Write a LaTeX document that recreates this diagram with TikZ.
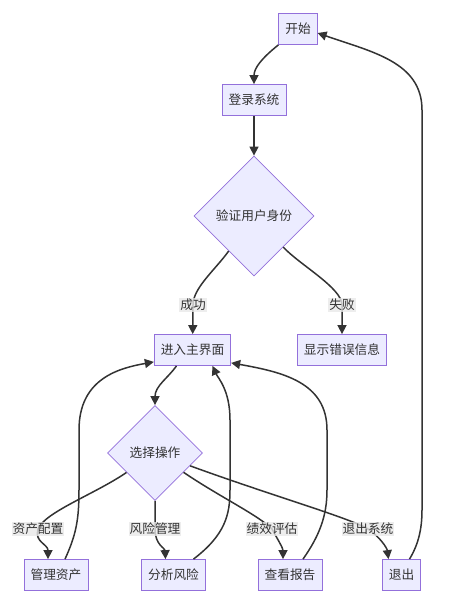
\documentclass[tikz,border=0pt]{standalone}
\usepackage{fontspec}
\setmainfont{Noto Sans CJK SC}
\usetikzlibrary{shapes.geometric,arrows.meta}
\definecolor{boxfill}{HTML}{ECECFF}
\definecolor{boxline}{HTML}{9370DB}
\definecolor{edgeline}{HTML}{333333}
\definecolor{labelbg}{HTML}{E8E8E8}

\begin{document}
\begin{tikzpicture}[x=1pt, y=-1pt,
  every node/.style={font=\fontsize{12.7}{15}\selectfont, text=edgeline},
  box/.style={draw=boxline, fill=boxfill, line width=0.8pt, minimum height=31pt, inner xsep=6.5pt},
  choice/.style={diamond, aspect=1, draw=boxline, fill=boxfill, line width=0.8pt, inner sep=0pt},
  flow/.style={draw=edgeline, line width=1.5pt, -{Triangle[length=9pt,width=9pt]}},
  tag/.style={fill=labelbg, fill opacity=0.8, text opacity=1, inner sep=1pt}]
  \useasboundingbox (0,0) rectangle (462,611);

  % Login part
  \node[box] (start) at (298,29) {开始};
  \node[box] (login) at (254,100) {登录系统};
  \node[choice, minimum size=120pt] (auth) at (254,216) {验证用户身份};
  \node[box] (main) at (192.5,350) {进入主界面};
  \node[box] (err) at (342,350) {显示错误信息};

  % Menu part
  \node[choice, minimum size=95pt] (sel) at (155,453) {选择操作};
  \node[box] (mg) at (56,575) {管理资产};
  \node[box] (risk) at (173.5,575) {分析风险};
  \node[box] (rep) at (290,575) {查看报告};
  \node[box] (quit) at (401.5,575) {退出};

  % Top edges
  \draw[flow] (start.south west) .. controls (262,58) and (254,68) .. (login);
  \draw[flow] (login) -- (auth);
  \draw[flow] (auth) .. controls (215,270) and (193,288) .. (193,305) node[tag] {成功} -- (main);
  \draw[flow] (auth) .. controls (300,265) and (342,288) .. (342,305) node[tag] {失败} -- (err);
  \draw[flow] ([xshift=-16pt]main.south) .. controls (168,378) and (155,386) .. (sel);

  % Menu edges
  \draw[flow] (sel) .. controls (95,494) and (45,512) .. (38,529) node[tag] {资产配置}
    .. controls (34,542) and (48,544) .. ([xshift=-8pt]mg.north);
  \draw[flow] (sel) -- (155,529) node[tag] {风险管理}
    .. controls (155,545) and (165,548) .. ([xshift=-8pt]risk.north);
  \draw[flow] (sel) .. controls (220,497) and (258,515) .. (272,529) node[tag] {绩效评估}
    .. controls (278,540) and (283,548) .. ([xshift=-7pt]rep.north);
  \draw[flow] (sel) .. controls (270,495) and (350,518) .. (368,529) node[tag] {退出系统}
    .. controls (380,537) and (387,548) .. ([xshift=-13pt]quit.north);

  % Back edges
  \draw[flow] ([xshift=9pt]mg.north) .. controls (76,535) and (79,520) .. (79,490) -- (79,430)
    .. controls (79,378) and (120,368) .. ([yshift=4pt]main.south west);
  \draw[flow] ([xshift=20pt]risk.north) .. controls (225,535) and (230,515) .. (230,490) -- (230,420)
    .. controls (230,390) and (218,378) .. ([xshift=20pt]main.south);
  \draw[flow] ([xshift=13pt]rep.north) .. controls (320,535) and (327,515) .. (327,490) -- (327,430)
    .. controls (327,382) and (282,372) .. ([yshift=3pt]main.south east);
  \draw[flow] ([xshift=8pt]quit.north) .. controls (418,545) and (422,530) .. (422,510) -- (422,110)
    .. controls (422,62) and (372,52) .. ([yshift=-4pt]start.east);
\end{tikzpicture}
\end{document}
